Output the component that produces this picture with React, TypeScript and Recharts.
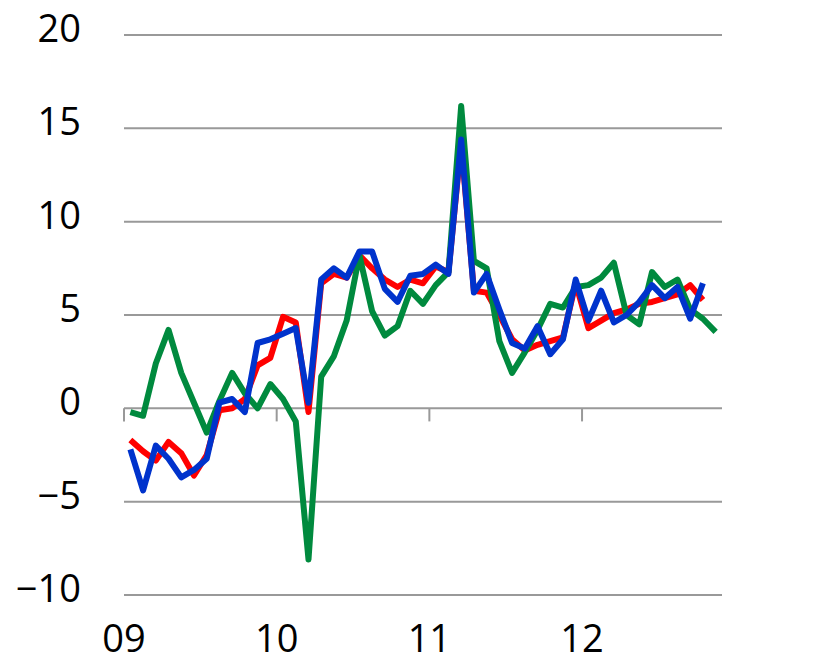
import React from 'react';
import {
  LineChart,
  Line,
  XAxis,
  YAxis,
  CartesianGrid,
  ReferenceLine,
} from 'recharts';

// monthly, Jan 2009 .. Nov 2012
const months: string[] = [
  '2009-01', '2009-02', '2009-03', '2009-04', '2009-05', '2009-06',
  '2009-07', '2009-08', '2009-09', '2009-10', '2009-11', '2009-12',
  '2010-01', '2010-02', '2010-03', '2010-04', '2010-05', '2010-06',
  '2010-07', '2010-08', '2010-09', '2010-10', '2010-11', '2010-12',
  '2011-01', '2011-02', '2011-03', '2011-04', '2011-05', '2011-06',
  '2011-07', '2011-08', '2011-09', '2011-10', '2011-11', '2011-12',
  '2012-01', '2012-02', '2012-03', '2012-04', '2012-05', '2012-06',
  '2012-07', '2012-08', '2012-09', '2012-10', '2012-11',
];

const redSeries: (number | null)[] = [
  -1.7, -2.3, -2.8, -1.8, -2.4, -3.6, -2.5, -0.1, 0.0, 0.5, 2.3, 2.7,
  4.9, 4.6, -0.2, 6.7, 7.2, 7.0, 8.2, 7.5, 6.9, 6.5, 6.9, 6.7,
  7.6, 7.3, 14.2, 6.3, 6.2, 5.0, 3.7, 3.1, 3.4, 3.6, 3.8, 6.7,
  4.3, 4.7, 5.1, 5.3, 5.6, 5.7, 5.9, 6.1, 6.6, 5.8, null,
];

const greenSeries: number[] = [
  -0.2, -0.4, 2.4, 4.2, 1.9, 0.3, -1.3, 0.4, 1.9, 0.8, 0.0, 1.3,
  0.5, -0.7, -8.1, 1.7, 2.8, 4.7, 8.2, 5.2, 3.9, 4.4, 6.3, 5.6,
  6.6, 7.3, 16.2, 7.9, 7.5, 3.6, 1.9, 3.0, 4.2, 5.6, 5.4, 6.5,
  6.6, 7.0, 7.8, 5.0, 4.5, 7.3, 6.5, 6.9, 5.3, 4.8, 4.1,
];

const blueSeries: (number | null)[] = [
  -2.2, -4.4, -2.0, -2.7, -3.7, -3.3, -2.7, 0.3, 0.5, -0.2, 3.5, 3.7,
  4.0, 4.3, 0.3, 6.9, 7.5, 7.0, 8.4, 8.4, 6.4, 5.7, 7.1, 7.2,
  7.7, 7.2, 14.4, 6.2, 7.2, 5.3, 3.5, 3.2, 4.4, 2.9, 3.7, 6.9,
  4.7, 6.3, 4.6, 5.0, 5.7, 6.6, 5.9, 6.5, 4.8, 6.7, null,
];

const yearTicks = [0, 12, 24, 36];
const yearLabels = ['09', '10', '11', '12'];
const yTicks = [-10, -5, 0, 5, 10, 15, 20];

const data = months.map((m, i) => ({
  month: m,
  t: i + 0.5,
  red: redSeries[i],
  green: greenSeries[i],
  blue: blueSeries[i],
}));

const FONT = '"Open Sans", sans-serif';
const FONT_SIZE = 38;

const fmtY = (v: number) => (v < 0 ? '\u2212' + Math.abs(v) : String(v));

const LeftTick = ({ x, y, payload }: any) => (
  <text x={x} y={y + 7} textAnchor="end" fontFamily={FONT} fontSize={FONT_SIZE} fill="#000">
    {fmtY(payload.value)}
  </text>
);

const RightTick = ({ x, y, payload }: any) => (
  <text x={x} y={y + 7} textAnchor="start" fontFamily={FONT} fontSize={FONT_SIZE} fill="#000">
    {fmtY(payload.value)}
  </text>
);

const BottomTick = ({ x, y, payload }: any) => (
  <text x={x} y={y + 57} textAnchor="middle" fontFamily={FONT} fontSize={FONT_SIZE} fill="#000">
    {yearLabels[yearTicks.indexOf(payload.value)]}
  </text>
);

const App: React.FC = () => {
  return (
    <div style={{ position: 'absolute', left: 0, top: 0, width: 839, height: 666, background: '#fff' }}>
      <LineChart
        width={839}
        height={666}
        data={data}
        margin={{ top: 35, right: 0, bottom: 0, left: 0 }}
      >
        <CartesianGrid
          yAxisId="left"
          vertical={false}
          stroke="#999"
          strokeWidth={2}
        />
        <XAxis
          dataKey="t"
          type="number"
          domain={[0, 47]}
          ticks={yearTicks}
          height={71}
          axisLine={false}
          tickLine={false}
          tickSize={0}
          tickMargin={0}
          tick={<BottomTick />}
          interval={0}
        />
        <YAxis
          yAxisId="left"
          orientation="left"
          domain={[-10, 20]}
          ticks={yTicks}
          width={124}
          axisLine={false}
          tickLine={false}
          tickSize={0}
          tickMargin={43}
          tick={<LeftTick />}
          interval={0}
        />
        <YAxis
          yAxisId="right"
          orientation="right"
          domain={[-10, 20]}
          ticks={yTicks}
          width={117}
          axisLine={false}
          tickLine={false}
          tickSize={0}
          tickMargin={41}
          tick={<RightTick />}
          interval={0}
        />
        {yearTicks.map((t) => (
          <ReferenceLine
            key={t}
            yAxisId="left"
            segment={[{ x: t, y: 0 }, { x: t, y: -0.7 }]}
            stroke="#999"
            strokeWidth={2}
          />
        ))}
        <Line
          yAxisId="left"
          type="linear"
          dataKey="red"
          stroke="#ff0000"
          strokeWidth={6}
          strokeLinejoin="round"
          dot={false}
          isAnimationActive={false}
        />
        <Line
          yAxisId="left"
          type="linear"
          dataKey="green"
          stroke="#008a3e"
          strokeWidth={6}
          strokeLinejoin="round"
          dot={false}
          isAnimationActive={false}
        />
        <Line
          yAxisId="left"
          type="linear"
          dataKey="blue"
          stroke="#0033cc"
          strokeWidth={6}
          strokeLinejoin="round"
          dot={false}
          isAnimationActive={false}
        />
      </LineChart>
    </div>
  );
};

export default App;
